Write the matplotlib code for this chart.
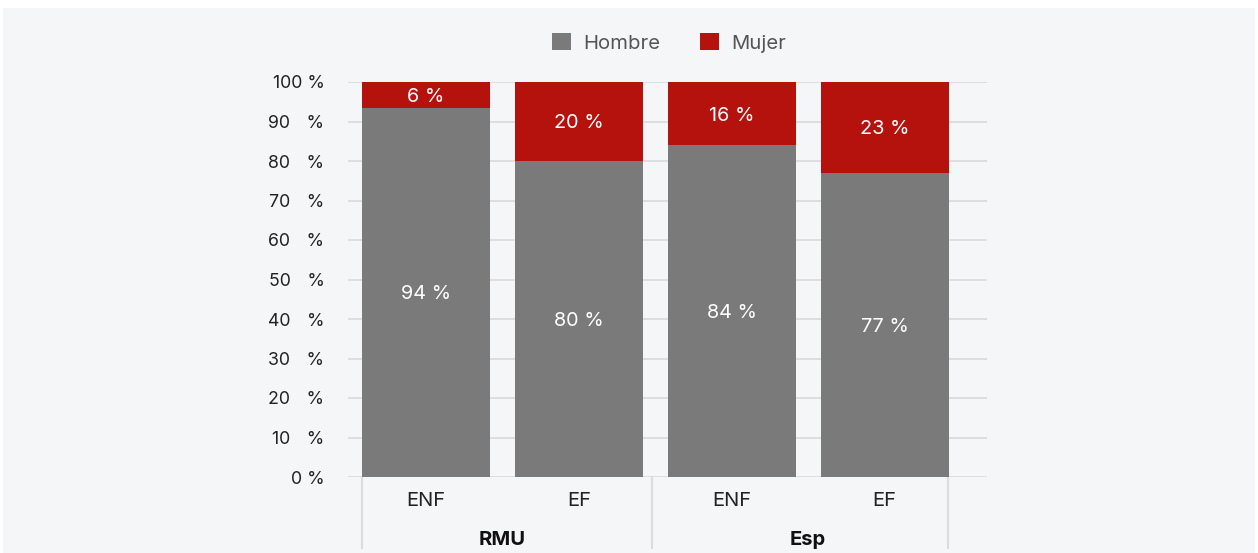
import matplotlib
matplotlib.use("Agg")
import matplotlib.pyplot as plt
from matplotlib.patches import Rectangle, Patch
import matplotlib.transforms as mtransforms

groups = ["RMU", "Esp"]
categories = ["ENF", "EF", "ENF", "EF"]
hombre = [93.5, 80, 84, 77]
mujer = [6.5, 20, 16, 23]
bar_labels_h = ["94 %", "80 %", "84 %", "77 %"]
bar_labels_m = ["6 %", "20 %", "16 %", "23 %"]
yticks = [0, 10, 20, 30, 40, 50, 60, 70, 80, 90, 100]
ytick_labels = ["0 %"] + [f"{v}\u2007 %" for v in yticks[1:-1]] + ["100 %"]

GRAY = "#7a7a7a"
RED = "#b5120d"
BG = "#f5f6f8"
GRID = "#dcdcdc"
FONT = ["Inter", "DejaVu Sans"]
plt.rcParams['font.family'] = FONT

W, H = 1258, 553
fig = plt.figure(figsize=(W / 100, H / 100), dpi=100)
fig.patch.set_facecolor("white")
fig.patches.append(Rectangle((3 / W, 0), (1255 - 3) / W, (H - 8) / H, transform=fig.transFigure,
                             facecolor=BG, edgecolor="none", zorder=-10))

ax = fig.add_axes([348 / W, (H - 477) / H, (987 - 348) / W, (477 - 82) / H])
ax.set_facecolor("none")
for s in ax.spines.values():
    s.set_visible(False)

x = list(range(len(categories)))
width = 0.837
ax.bar(x, hombre, width=width, color=GRAY, zorder=3)
ax.bar(x, mujer, width=width, bottom=hombre, color=RED, zorder=3)

for i in x:
    ax.text(i, hombre[i] / 2, bar_labels_h[i], ha="center", va="center_baseline", color="white",
            fontsize=14.3, zorder=4)
    ax.text(i, hombre[i] + mujer[i] / 2, bar_labels_m[i], ha="center", va="center_baseline", color="white",
            fontsize=14.3, zorder=4)

ax.set_xlim(-0.51, 3.67)
ax.set_ylim(0, 100)
ax.set_yticks(yticks)
ax.set_yticklabels(ytick_labels, fontsize=12.8, color="#222222")
ax.tick_params(axis="y", length=0, pad=17)
ax.set_xticks([])
for t in yticks:
    ax.axhline(t, color=GRID, lw=1.3, zorder=1)

trans = mtransforms.blended_transform_factory(ax.transData, ax.transAxes)
for xd in [-0.418, 1.477, 3.418]:
    ax.plot([xd, xd], [0, -0.18], transform=trans, color=GRID, lw=1.5, clip_on=False, zorder=1)

for i, c in enumerate(categories):
    ax.text(i, -0.062, c, transform=trans, ha="center", va="center", fontsize=14.5, color="#222222")
for g, gi in enumerate(groups):
    ax.text(2 * g + 0.5, -0.16, gi, transform=trans, ha="center", va="center", fontsize=14.5,
            fontweight="bold", color="#111111")

handles = [Patch(facecolor=GRAY, label="Hombre"), Patch(facecolor=RED, label="Mujer")]
leg = fig.legend(handles=handles, loc="center", bbox_to_anchor=(669 / W, (H - 43) / H), ncol=2,
                 frameon=False, fontsize=14.6, handlelength=0.93, handleheight=0.9, handletextpad=0.6,
                 columnspacing=1.95)
for t in leg.get_texts():
    t.set_color("#555555")

fig.savefig("out.png", dpi=100, facecolor=fig.get_facecolor())
